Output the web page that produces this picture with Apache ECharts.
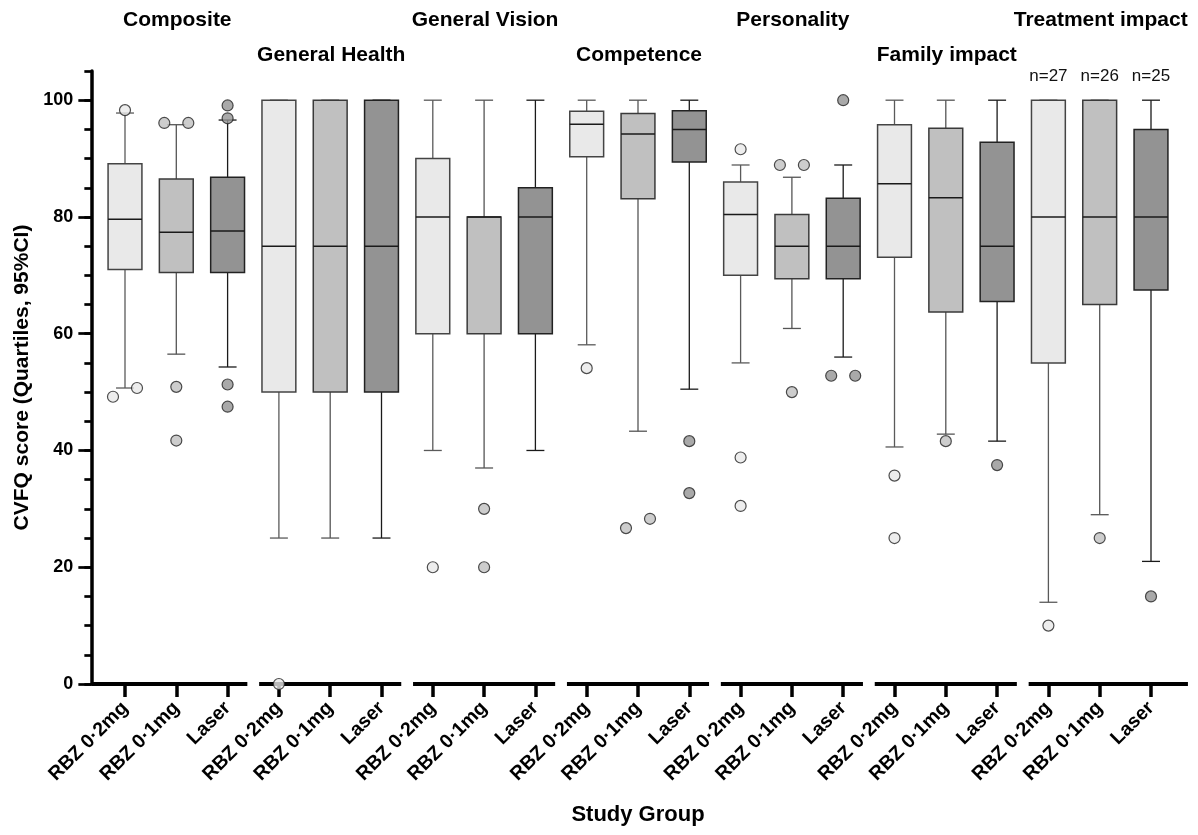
<!DOCTYPE html>
<html>
<head>
<meta charset="utf-8">
<script src="https://cdn.jsdelivr.net/npm/echarts@6/dist/echarts.min.js"></script>
<style>
  html, body { margin: 0; padding: 0; background: #fff; }
  #main { width: 1198px; height: 835px; }
</style>
</head>
<body>
<div id="main"></div>
<script>
// CVFQ domains, three study arms per domain
var groups = ['Composite', 'General Health', 'General Vision', 'Competence', 'Personality', 'Family impact', 'Treatment impact'];
var arms = ['RBZ 0·2mg', 'RBZ 0·1mg', 'Laser'];

// whiskers / quartiles, one entry per box (domain x arm)
var lowWhisker  = [50.7, 56.5, 54.3,  25, 25, 25,  40, 37, 40,  58.1, 43.3, 50.5,  55.0, 60.9, 56.0,  40.6, 42.8, 41.6,  14, 29, 21];
var q1          = [71.0, 70.5, 70.5,  50, 50, 50,  60, 60, 60,  90.3, 83.1, 89.4,  70.0, 69.4, 69.4,  73.1, 63.7, 65.5,  55, 65, 67.5];
var median      = [79.6, 77.4, 77.6,  75, 75, 75,  80, 80, 80,  95.9, 94.2, 95.0,  80.4, 75.0, 75.0,  85.7, 83.3, 75.0,  80, 80, 80];
var q3          = [89.1, 86.5, 86.8,  100, 100, 100,  90, 80, 85,  98.1, 97.7, 98.2,  86.0, 80.4, 83.2,  95.8, 95.2, 92.8,  100, 100, 95];
var highWhisker = [97.8, 95.8, 96.6,  100, 100, 100,  100, 100, 100,  100, 100, 100,  88.9, 86.8, 88.9,  100, 100, 100,  100, 100, 100];

// outliers: box index and value
var outlierBox = [0, 0, 0,  1, 1, 1, 1,  2, 2, 2, 2,  3,  6,  7, 7,  9,  10, 10,  11, 11,  12, 12, 12,  13, 13, 13,  14, 14, 14,  15, 15,  16,  17,  18,  19,  20];
var outlierVal = [98.3, 49.2, 50.7,  96.1, 96.1, 50.9, 41.7,  99.1, 96.9, 51.3, 47.5,  0,  20,  30, 20,  54.1,  26.7, 28.3,  41.6, 32.7,  91.6, 38.8, 30.5,  88.9, 88.9, 50.0,  100, 52.8, 52.8,  35.7, 25.0,  41.6,  37.5,  10,  25,  15];
// side nudge of overlapping points (-1 left, 1 right)
var outlierSide = [0, -1, 1,  -1, 1, 0, 0,  0, 0, 0, 0,  0,  0,  0, 0,  0,  -1, 1,  0, 0,  0, 0, 0,  -1, 1, 0,  0, -1, 1,  0, 0,  0,  0,  0,  0,  0];

var nLabels = ['', '', '', '', '', '', '', '', '', '', '', '', '', '', '', '', '', '', 'n=27', 'n=26', 'n=25'];

var FONT = '"Liberation Sans", Arial, Helvetica, sans-serif';
var armFill = ['#e9e9e9', '#c0c0c0', '#939393'];
var armLine = ['#5a5a5a', '#555555', '#1a1a1a'];
var armBorder = ['#444444', '#3a3a3a', '#222222'];

var categories = [];
groups.forEach(function (g, k) {
  arms.forEach(function (a, j) { categories.push('c' + (k * 3 + j)); });
});

var boxData = categories.map(function (c, i) {
  return [i, lowWhisker[i], q1[i], median[i], q3[i], highWhisker[i]];
});

var outlierData = outlierBox.map(function (b, j) {
  var arm = b % 3;
  return {
    value: [b, outlierVal[j]],
    symbolOffset: [outlierSide[j] * 12, 0],
    itemStyle: { color: armFill[arm], borderColor: '#222', borderWidth: 1.2 }
  };
});

var Y_OFFSET = 8;

function renderBox(params, api) {
  var i = api.value(0);
  var band = api.size([1, 0])[0];
  var bw = band * 0.66, cw = band * 0.35;
  var x = api.coord([i, 0])[0];
  var yLow = api.coord([i, api.value(1)])[1];
  var yQ1 = api.coord([i, api.value(2)])[1];
  var yMed = api.coord([i, api.value(3)])[1];
  var yQ3 = api.coord([i, api.value(4)])[1];
  var yHigh = api.coord([i, api.value(5)])[1];
  var arm = i % 3;
  var ls = { stroke: armLine[arm], lineWidth: 1.3 };
  var children = [
    { type: 'line', shape: { x1: x, y1: yQ3, x2: x, y2: yHigh }, style: ls },
    { type: 'line', shape: { x1: x, y1: yQ1, x2: x, y2: yLow }, style: ls },
    { type: 'line', shape: { x1: x - cw / 2, y1: yHigh, x2: x + cw / 2, y2: yHigh }, style: ls },
    { type: 'line', shape: { x1: x - cw / 2, y1: yLow, x2: x + cw / 2, y2: yLow }, style: ls },
    { type: 'rect', shape: { x: x - bw / 2, y: yQ3, width: bw, height: yQ1 - yQ3 },
      style: { fill: armFill[arm], stroke: armBorder[arm], lineWidth: 1.5 } },
    { type: 'line', shape: { x1: x - bw / 2, y1: yMed, x2: x + bw / 2, y2: yMed },
      style: { stroke: '#1a1a1a', lineWidth: 1.5 } }
  ];
  if (nLabels[i]) {
    children.push({
      type: 'text',
      style: {
        text: nLabels[i], x: x, y: api.coord([i, 105])[1] + 5,
        align: 'center', verticalAlign: 'middle',
        fontFamily: FONT, fontSize: 17, fill: '#111'
      }
    });
  }
  return { type: 'group', children: children };
}

// broken x axis, one piece per domain, with the domain title above
function renderSegment(params, api) {
  var k = api.value(0);
  var band = api.size([1, 0])[0];
  var first = api.coord([k * 3, 0]);
  var last = api.coord([k * 3 + 2, 0]);
  var x1 = k === 0 ? first[0] - band / 2 - Y_OFFSET : first[0] - 0.385 * band;
  var x2 = k === groups.length - 1 ? last[0] + 0.72 * band : last[0] + 0.385 * band;
  return {
    type: 'group',
    children: [
      { type: 'line', shape: { x1: x1, y1: first[1], x2: x2, y2: first[1] },
        style: { stroke: '#000', lineWidth: 4 } },
      { type: 'text',
        style: {
          text: groups[k], x: (first[0] + last[0]) / 2 + 1, y: k % 2 === 0 ? 20 : 55,
          align: 'center', verticalAlign: 'middle',
          fontFamily: FONT, fontSize: 21, fontWeight: 'bold', fill: '#000'
        } }
    ]
  };
}

var chart = echarts.init(document.getElementById('main'), null, { renderer: 'canvas' });

var option = {
  animation: false,
  grid: [
    { left: 99.35, right: 21.35, top: 71, bottom: 151 },
    { left: 99.35, right: 21.35, top: 100.19, bottom: 151 }
  ],
  xAxis: [
    {
      type: 'category', gridIndex: 0, data: categories, boundaryGap: true,
      axisLine: { show: false },
      axisTick: { show: true, alignWithLabel: true, length: 13, lineStyle: { color: '#000', width: 3.5 } },
      axisLabel: {
        interval: 0, rotate: 45, margin: 21,
        formatter: function (v, idx) { return arms[idx % 3]; },
        fontFamily: FONT, fontSize: 19.5, fontWeight: 'bold', color: '#000'
      },
      splitLine: { show: false },
      name: 'Study Group', nameLocation: 'middle', nameGap: 120,
      nameTextStyle: { fontFamily: FONT, fontSize: 22, fontWeight: 'bold', color: '#000' }
    },
    { type: 'category', gridIndex: 1, data: categories, show: false }
  ],
  yAxis: [
    {
      type: 'value', gridIndex: 0, min: 0, max: 105, interval: 5, offset: Y_OFFSET,
      axisLine: { show: true, lineStyle: { color: '#000', width: 3.5 } },
      axisTick: { show: true, length: 7, lineStyle: { color: '#000', width: 2.7 } },
      axisLabel: { show: false },
      splitLine: { show: false },
      name: 'CVFQ score (Quartiles, 95%CI)', nameLocation: 'middle', nameGap: 59,
      nameTextStyle: { fontFamily: FONT, fontSize: 21, fontWeight: 'bold', color: '#000' }
    },
    {
      type: 'value', gridIndex: 1, min: 0, max: 100, interval: 20, offset: Y_OFFSET,
      axisLine: { show: false },
      axisTick: { show: true, length: 13, lineStyle: { color: '#000', width: 2.7 } },
      axisLabel: { margin: 18, fontFamily: FONT, fontSize: 18, fontWeight: 'bold', color: '#000' },
      splitLine: { show: false }
    }
  ],
  series: [
    {
      type: 'custom', name: 'axis', xAxisIndex: 0, yAxisIndex: 0, z: 2, clip: false,
      renderItem: renderSegment,
      data: groups.map(function (g, k) { return [k]; })
    },
    {
      type: 'custom', name: 'boxes', xAxisIndex: 0, yAxisIndex: 0, z: 3, clip: false,
      renderItem: renderBox,
      encode: { x: 0, y: [1, 2, 3, 4, 5] },
      data: boxData
    },
    {
      type: 'scatter', name: 'outliers', xAxisIndex: 0, yAxisIndex: 0, z: 4,
      symbol: 'circle', symbolSize: 11, clip: false,
      data: outlierData
    }
  ]
};

chart.setOption(option);
</script>
</body>
</html>
